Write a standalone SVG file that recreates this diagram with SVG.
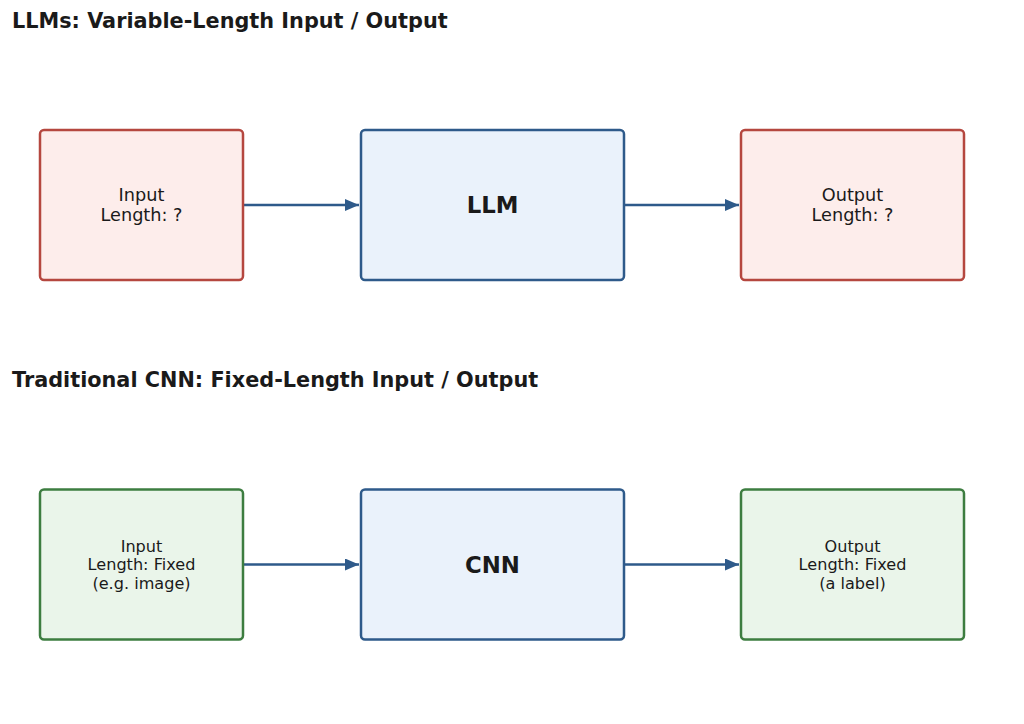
<svg xmlns="http://www.w3.org/2000/svg" width="1024" height="724" viewBox="0 0 1024 724">
<style>
.title{font-family:"DejaVu Sans",sans-serif;font-weight:bold;font-size:20.8px;fill:#1a1a1a}
.lbl{font-family:"DejaVu Sans",sans-serif;font-size:17.7px;fill:#1a1a1a;text-anchor:middle}
.sm{font-family:"DejaVu Sans",sans-serif;font-size:16.1px;fill:#1a1a1a;text-anchor:middle}
.big{font-family:"DejaVu Sans",sans-serif;font-weight:bold;font-size:22.8px;fill:#1a1a1a;text-anchor:middle}
.red{fill:#fdedeb;stroke:#b5473f;stroke-width:2.5}
.blue{fill:#eaf2fb;stroke:#2e5a8a;stroke-width:2.5}
.green{fill:#eaf5ea;stroke:#3d7d40;stroke-width:2.5}
.conn{stroke:#2e5a8a;stroke-width:2.5;fill:none;marker-end:url(#ah)}
</style>
<defs>
<marker id="ah" markerWidth="14" markerHeight="12" refX="14" refY="6" orient="auto" markerUnits="userSpaceOnUse">
<path d="M0,0 L14,6 L0,12 z" fill="#2e5a8a"/>
</marker>
</defs>
<rect width="1024" height="724" fill="#ffffff"/>
<text class="title" x="12" y="28">LLMs: Variable-Length Input / Output</text>
<text class="title" x="12" y="387">Traditional CNN: Fixed-Length Input / Output</text>
<g id="connectors">
<line class="conn" x1="244" y1="205" x2="359" y2="205"/>
<line class="conn" x1="625" y1="205" x2="739" y2="205"/>
<line class="conn" x1="244" y1="564.5" x2="359" y2="564.5"/>
<line class="conn" x1="625" y1="564.5" x2="739" y2="564.5"/>
</g>
<g id="llm-input">
<rect class="red" x="40" y="130" width="203" height="150" rx="4"/>
<text class="lbl" x="141.5" y="200.5">Input</text>
<text class="lbl" x="141.5" y="220.5">Length: ?</text>
</g>
<g id="llm">
<rect class="blue" x="361" y="130" width="263" height="150" rx="4"/>
<text class="big" x="492.5" y="213">LLM</text>
</g>
<g id="llm-output">
<rect class="red" x="741" y="130" width="223" height="150" rx="4"/>
<text class="lbl" x="852.5" y="200.5">Output</text>
<text class="lbl" x="852.5" y="220.5">Length: ?</text>
</g>
<g id="cnn-input">
<rect class="green" x="40" y="489.5" width="203" height="150" rx="4"/>
<text class="sm" x="141.5" y="551.5">Input</text>
<text class="sm" x="141.5" y="570">Length: Fixed</text>
<text class="sm" x="141.5" y="588.5">(e.g. image)</text>
</g>
<g id="cnn">
<rect class="blue" x="361" y="489.5" width="263" height="150" rx="4"/>
<text class="big" x="492.5" y="572.5">CNN</text>
</g>
<g id="cnn-output">
<rect class="green" x="741" y="489.5" width="223" height="150" rx="4"/>
<text class="sm" x="852.5" y="551.5">Output</text>
<text class="sm" x="852.5" y="570">Length: Fixed</text>
<text class="sm" x="852.5" y="588.5">(a label)</text>
</g>
</svg>
